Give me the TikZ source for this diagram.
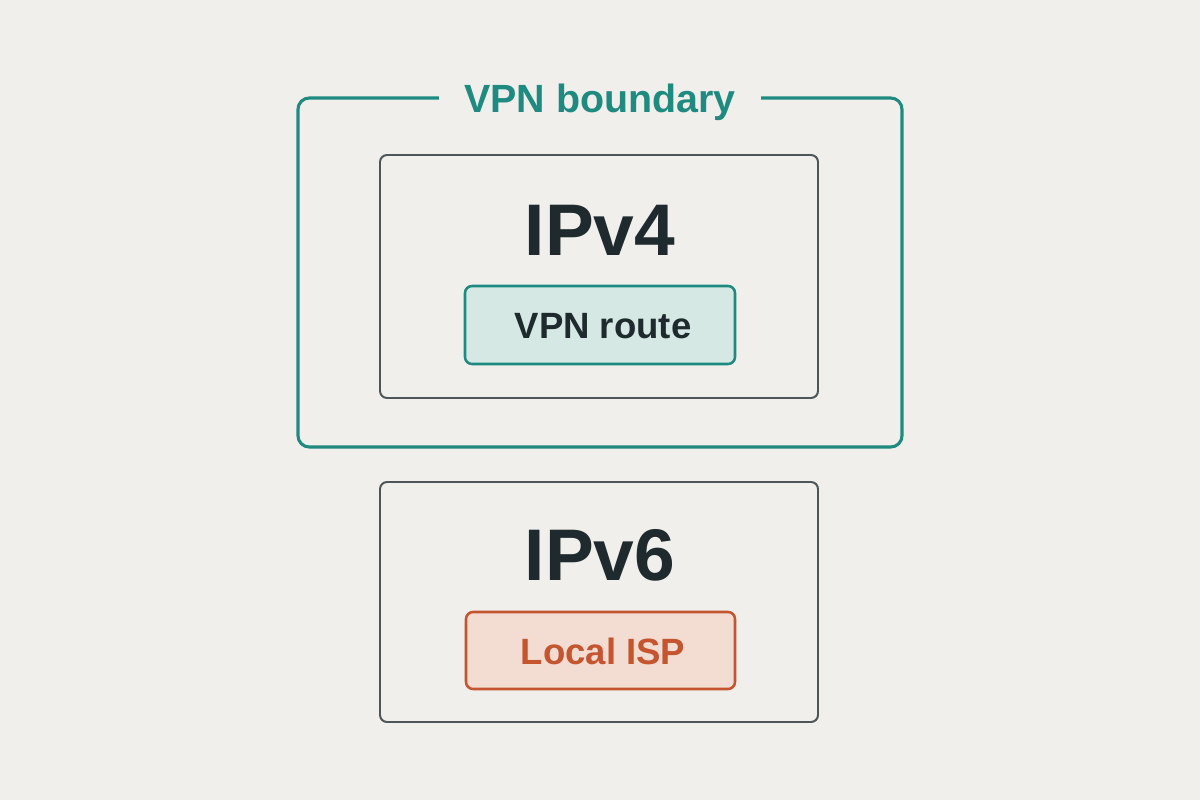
\documentclass[tikz,border=0pt]{standalone}
\usepackage{fontspec}
\setmainfont{Liberation Sans}
\definecolor{bg}{HTML}{F0EFEB}
\definecolor{teal}{HTML}{1E8A80}
\definecolor{ink}{HTML}{1F2A2E}
\definecolor{tealfill}{HTML}{D5E8E3}
\definecolor{rust}{HTML}{C4552F}
\definecolor{rustfill}{HTML}{F3DDD3}
\begin{document}
\begin{tikzpicture}[x=0.025cm,y=-0.025cm,
  box/.style={draw=ink!80,line width=1.4pt,rounded corners=5pt},
  pill/.style={line width=1.8pt,rounded corners=5pt},
  big/.style={font=\fontsize{52}{60}\selectfont\bfseries,text=ink},
  mid/.style={font=\fontsize{26}{30}\selectfont\bfseries}]
\fill[bg] (0,0) rectangle (1200,800);
\useasboundingbox (0,0) rectangle (1200,800);
\draw[draw=teal,line width=2.2pt,rounded corners=8pt] (298,98) rectangle (902,447);
\node[fill=bg,inner xsep=18pt,inner ysep=2pt,text=teal,font=\fontsize{28}{32}\selectfont\bfseries] (vb) at (600,102) {VPN boundary};
\draw[box] (380,155) rectangle (818,398);
\node[big] (v4) at (600,230) {IPv4};
\draw[pill,draw=teal,fill=tealfill] (465,286) rectangle (735,364);
\node[mid,text=ink] (vr) at (603,326) {VPN route};
\draw[box] (380,482) rectangle (818,722);
\node[big] (v6) at (600,555) {IPv6};
\draw[pill,draw=rust,fill=rustfill] (466,612) rectangle (735,689);
\node[mid,text=rust] (isp) at (603,651) {Local ISP};
\end{tikzpicture}
\end{document}
